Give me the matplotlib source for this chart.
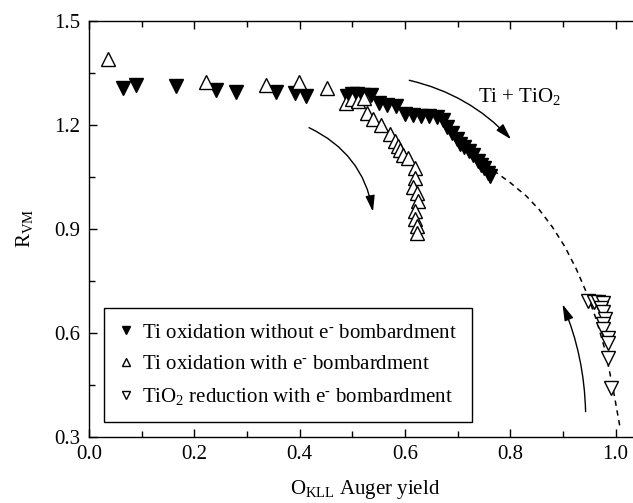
import matplotlib
matplotlib.use('Agg')
import matplotlib.pyplot as plt
from matplotlib.patches import FancyArrowPatch
from matplotlib.ticker import MultipleLocator

plt.rcParams['font.family'] = ['Liberation Serif', 'DejaVu Serif']
plt.rcParams['mathtext.fontset'] = 'custom'
plt.rcParams['mathtext.rm'] = 'Liberation Serif'
plt.rcParams['mathtext.it'] = 'Liberation Serif:italic'

# Ti oxidation without e- bombardment (filled down triangles)
ox_no_x = [0.065, 0.089, 0.166, 0.242, 0.280, 0.355, 0.391, 0.412, 0.489, 0.500,
           0.508, 0.520, 0.535, 0.550, 0.565, 0.582, 0.600, 0.615, 0.630, 0.645,
           0.660, 0.672, 0.680, 0.690, 0.698, 0.705, 0.712, 0.722, 0.730, 0.738,
           0.745, 0.750, 0.757, 0.762]
ox_no_y = [1.306, 1.315, 1.312, 1.299, 1.294, 1.294, 1.291, 1.283, 1.284, 1.288,
           1.288, 1.287, 1.285, 1.262, 1.258, 1.255, 1.232, 1.228, 1.226, 1.224,
           1.222, 1.215, 1.195, 1.175, 1.160, 1.145, 1.135, 1.125, 1.112, 1.095,
           1.085, 1.075, 1.060, 1.052]

# Ti oxidation with e- bombardment (open up triangles)
ox_e_x = [0.037, 0.222, 0.336, 0.398, 0.451, 0.488, 0.500, 0.510, 0.522, 0.527,
          0.539, 0.555, 0.571, 0.581, 0.586, 0.590, 0.596, 0.605, 0.619, 0.619,
          0.615, 0.622, 0.625, 0.619, 0.619, 0.622, 0.622]
ox_e_y = [1.390, 1.322, 1.315, 1.323, 1.306, 1.262, 1.275, 1.268, 1.278, 1.235,
          1.216, 1.200, 1.172, 1.152, 1.140, 1.128, 1.112, 1.105, 1.075, 1.047,
          1.022, 1.003, 0.980, 0.952, 0.927, 0.907, 0.888]

# TiO2 reduction with e- bombardment (open down triangles)
red_x = [0.947, 0.958, 0.966, 0.976, 0.972, 0.976, 0.979, 0.976, 0.976, 0.985,
         0.985, 0.985, 0.992]
red_y = [0.691, 0.690, 0.690, 0.687, 0.672, 0.659, 0.640, 0.625, 0.610, 0.585,
         0.572, 0.529, 0.442]

# dashed guide curve
guide_x = [0.768, 0.800, 0.830, 0.855, 0.880, 0.903, 0.925, 0.945, 0.963, 0.980,
           0.995, 1.008]
guide_y = [1.068, 1.033, 0.995, 0.955, 0.905, 0.850, 0.785, 0.715, 0.640, 0.550,
           0.440, 0.330]

# curved arrows: (start, end, rad)
arrows = [((0.413, 1.195), (0.540, 0.941), -0.27),
          ((0.603, 1.330), (0.805, 1.152), -0.16),
          ((0.943, 0.365), (0.897, 0.690), 0.10)]

labels = ['Ti oxidation without e$^{\\text{-}}$ bombardment',
          'Ti oxidation with e$^{\\text{-}}$ bombardment',
          'TiO$_{2}$ reduction with e$^{\\text{-}}$ bombardment']

fs = 15

fig = plt.figure(figsize=(6.33, 5.03), dpi=100)
ax = fig.add_axes([89 / 633, 1 - 437 / 503, 553 / 633, 416.3 / 503])

ms = 10
ax.plot(guide_x, guide_y, color='black', lw=1.1, ls=(0, (3.5, 3)), zorder=1)
ax.plot(ox_no_x, ox_no_y, ls='none', marker='v', ms=ms, color='black',
        mec='black', label=labels[0], zorder=2)
ax.plot(ox_e_x, ox_e_y, ls='none', marker='^', ms=ms, mfc='white',
        mec='black', mew=1.0, label=labels[1], zorder=3)
ax.plot(red_x, red_y, ls='none', marker='v', ms=ms, mfc='white',
        mec='black', mew=1.0, label=labels[2], zorder=3)

for start, end, rad in arrows:
    ax.add_patch(FancyArrowPatch(start, end, connectionstyle='arc3,rad=%s' % rad,
                                 arrowstyle='-|>,head_length=0.7,head_width=0.2',
                                 mutation_scale=14, lw=1.0, color='black'))

ax.text(0.818, 1.281, 'Ti + TiO$_{2}$', fontsize=fs, ha='center', va='center')

ax.set_xlim(0, 1.05)
ax.set_ylim(0.3, 1.5)
ax.xaxis.set_major_locator(MultipleLocator(0.2))
ax.xaxis.set_minor_locator(MultipleLocator(0.1))
ax.yaxis.set_major_locator(MultipleLocator(0.3))
ax.yaxis.set_minor_locator(MultipleLocator(0.15))
ax.xaxis.set_major_formatter(plt.FuncFormatter(lambda v, p: '%.1f' % v))
ax.yaxis.set_major_formatter(plt.FuncFormatter(lambda v, p: '%.1f' % v))
ax.tick_params(which='both', direction='in', top=True, right=True,
               labelsize=fs, width=1.0)
ax.tick_params(which='major', length=6, pad=6)
ax.tick_params(which='minor', length=4)
for s in ax.spines.values():
    s.set_linewidth(1.0)

ax.set_xlabel('O$_{\\rm KLL}$ Auger yield', fontsize=fs, labelpad=10)
ax.set_ylabel('R$_{\\rm VM}$', fontsize=fs, labelpad=14)

leg = ax.legend(loc='upper left', bbox_to_anchor=(104 / 633, 1 - 308 / 503),
                bbox_transform=fig.transFigure, borderaxespad=0, fancybox=False,
                edgecolor='black', framealpha=1, fontsize=fs, markerscale=0.6,
                numpoints=1, handlelength=0.7, handletextpad=0.4,
                labelspacing=0.58, borderpad=0.72)
leg.get_frame().set_linewidth(1.0)

fig.savefig('out.png', dpi=100)
